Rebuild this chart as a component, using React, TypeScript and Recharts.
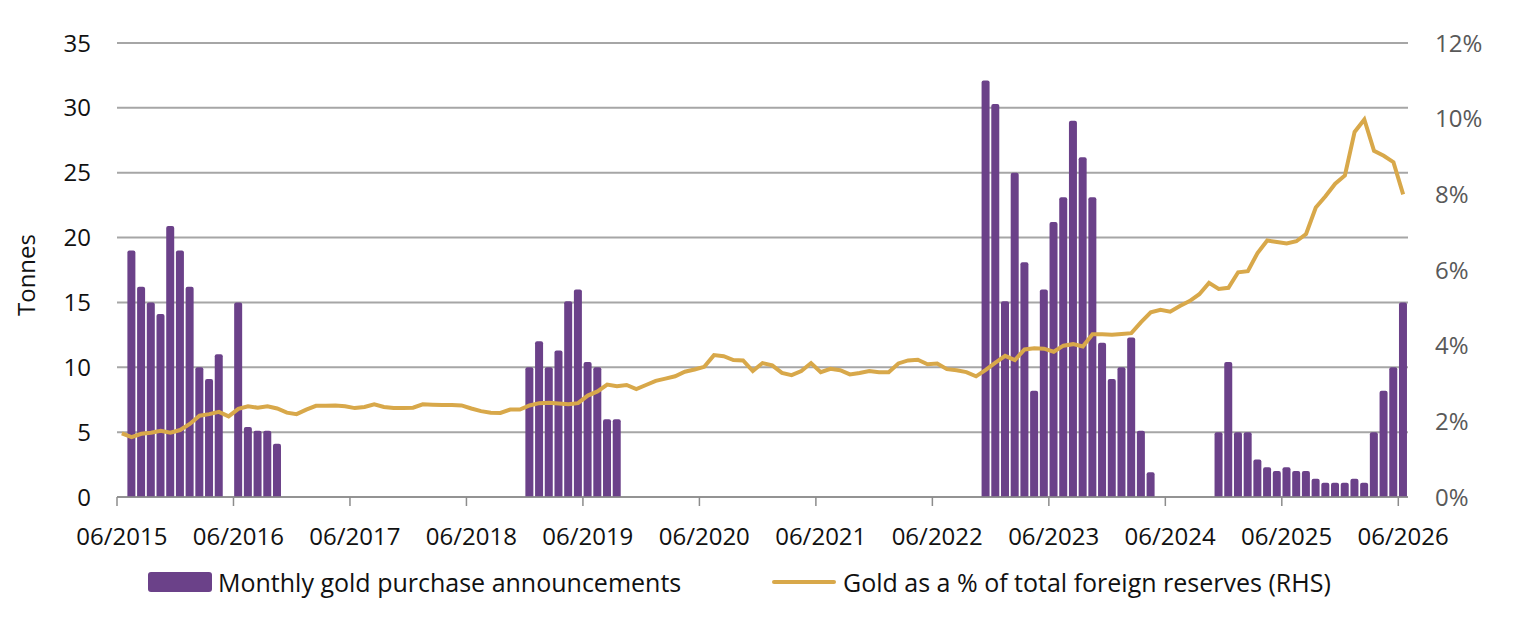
import { ComposedChart, Bar, Line, XAxis, YAxis, CartesianGrid, Legend, Label } from 'recharts';

// monthly categories, 06/2015 .. 06/2026
const FIRST_YEAR = 2015;
const FIRST_MONTH = 6;
const MONTH_COUNT = 133;
const months: string[] = Array.from({ length: MONTH_COUNT }, (_, i) => {
  const k = FIRST_MONTH - 1 + i;
  return `${String((k % 12) + 1).padStart(2, '0')}/${FIRST_YEAR + Math.floor(k / 12)}`;
});

// tonnes announced each month (null = no announcement)
const purchases: (number | null)[] = [
  null, 19, 16.2, 15, 14.1, 20.9, 19, 16.2, 10, 9.1, 11, null,
  15, 5.4, 5.1, 5.1, 4.1, null, null, null, null, null, null, null,
  null, null, null, null, null, null, null, null, null, null, null, null,
  null, null, null, null, null, null, 10, 12, 10, 11.3, 15.1, 16,
  10.4, 10, 6, 6, null, null, null, null, null, null, null, null,
  null, null, null, null, null, null, null, null, null, null, null, null,
  null, null, null, null, null, null, null, null, null, null, null, null,
  null, null, null, null, null, 32.1, 30.3, 15.1, 25, 18.1, 8.2, 16,
  21.2, 23.1, 29, 26.2, 23.1, 11.9, 9.1, 10, 12.3, 5.1, 1.9, null,
  null, null, null, null, null, 5, 10.4, 5, 5, 2.9, 2.3, 2,
  2.3, 2, 2, 1.4, 1.1, 1.1, 1.1, 1.4, 1.1, 5, 8.2, 10,
  15,
];

// gold share of total foreign reserves, %
const reserves: number[] = [
  1.68, 1.58, 1.67, 1.7, 1.75, 1.7, 1.77, 1.93, 2.15, 2.19, 2.25, 2.13,
  2.33, 2.4, 2.36, 2.4, 2.34, 2.23, 2.19, 2.31, 2.41, 2.41, 2.42, 2.4,
  2.35, 2.38, 2.45, 2.38, 2.35, 2.35, 2.36, 2.45, 2.44, 2.43, 2.43, 2.42,
  2.34, 2.27, 2.23, 2.22, 2.31, 2.31, 2.42, 2.48, 2.49, 2.47, 2.45, 2.48,
  2.68, 2.79, 2.97, 2.93, 2.96, 2.85, 2.96, 3.07, 3.13, 3.19, 3.31, 3.37,
  3.44, 3.75, 3.72, 3.62, 3.61, 3.33, 3.54, 3.48, 3.28, 3.22, 3.33, 3.54,
  3.3, 3.39, 3.35, 3.24, 3.28, 3.33, 3.3, 3.3, 3.53, 3.61, 3.63, 3.51,
  3.53, 3.38, 3.35, 3.3, 3.19, 3.36, 3.55, 3.73, 3.62, 3.9, 3.93, 3.92,
  3.84, 4.0, 4.04, 3.98, 4.3, 4.3, 4.29, 4.31, 4.33, 4.62, 4.88, 4.95,
  4.9, 5.05, 5.18, 5.36, 5.66, 5.5, 5.53, 5.94, 5.97, 6.45, 6.78, 6.74,
  6.7, 6.76, 6.95, 7.65, 7.95, 8.28, 8.5, 9.65, 9.98, 9.15, 9.02, 8.85,
  8.0,
];

const tonneTicks = [0, 5, 10, 15, 20, 25, 30, 35];
const percentTicks = [0, 2, 4, 6, 8, 10, 12];

const data = months.map((month, i) => ({
  month,
  purchases: purchases[i],
  reserves: reserves[i],
}));

const PURPLE = '#6b4189';
const GOLD = '#d8a84a';
const FONT = '"Open Sans", "Noto Sans", sans-serif';

const WIDTH = 1500;
const HEIGHT = 602;
const LEFT_AXIS_W = 109;
const RIGHT_AXIS_W = 100;
const PLOT_W = WIDTH - LEFT_AXIS_W - RIGHT_AXIS_W;
const LEGEND_H = 50;

// tick line on the boundary between months, label on the first month
function MonthTick({ x, y, payload }: any) {
  const band = PLOT_W / MONTH_COUNT;
  const bx = x - band / 2;
  return (
    <g>
      <line x1={bx} x2={bx} y1={y} y2={y + 9} stroke="#8c8c8c" strokeWidth={1.5} />
      <text x={x} y={y + 38} textAnchor="middle" dominantBaseline="central" fontSize={24} fill="#111">
        {payload.value}
      </text>
    </g>
  );
}

function TonnesLabel({ viewBox }: any) {
  const cy = viewBox.y + viewBox.height / 2 + 5;
  return (
    <text x={17} y={cy} transform={`rotate(-90, 17, ${cy})`} textAnchor="middle" dominantBaseline="central" fontSize={24} fill="#111">
      Tonnes
    </text>
  );
}

function LegendBox() {
  const item = { position: 'absolute' as const, top: 0, lineHeight: '44px', whiteSpace: 'nowrap' as const };
  return (
    <div style={{ position: 'relative', width: WIDTH, height: LEGEND_H, fontSize: 25, color: '#111', fontFamily: FONT }}>
      <div style={{ position: 'absolute', left: 140, top: 12, width: 64, height: 20, background: PURPLE, borderRadius: 3 }} />
      <span style={{ ...item, left: 210 }}>Monthly gold purchase announcements</span>
      <div style={{ position: 'absolute', left: 764, top: 20, width: 64, height: 4, background: GOLD, borderRadius: 2 }} />
      <span style={{ ...item, left: 835 }}>Gold as a % of total foreign reserves (RHS)</span>
    </div>
  );
}

export default function App() {
  return (
    <div style={{ width: WIDTH, height: HEIGHT, fontFamily: FONT, background: '#fff' }}>
      <ComposedChart width={WIDTH} height={HEIGHT} data={data} margin={{ top: 35, right: 0, bottom: 0, left: 0 }} barCategoryGap="7%">
        <CartesianGrid yAxisId="left" vertical={false} stroke="#a6a6a6" strokeWidth={2} />
        <XAxis
          dataKey="month"
          height={63}
          interval={11}
          tickSize={0}
          tickMargin={0}
          tickLine={false}
          axisLine={{ stroke: '#8c8c8c', strokeWidth: 1.5 }}
          tick={<MonthTick />}
        />
        <YAxis
          yAxisId="left"
          width={LEFT_AXIS_W}
          domain={[0, 35]}
          ticks={tonneTicks}
          axisLine={false}
          tickLine={false}
          tickMargin={20}
          tick={{ fontSize: 24, fill: '#111' }}
        >
          <Label content={<TonnesLabel />} />
        </YAxis>
        <YAxis
          yAxisId="right"
          orientation="right"
          width={RIGHT_AXIS_W}
          domain={[0, 12]}
          ticks={percentTicks}
          tickFormatter={(v) => `${v}%`}
          axisLine={false}
          tickLine={false}
          tickMargin={21}
          tick={{ fontSize: 24, fill: '#595959' }}
        />
        <Bar yAxisId="left" dataKey="purchases" fill={PURPLE} radius={[2, 2, 0, 0]} isAnimationActive={false} />
        <Line
          yAxisId="right"
          dataKey="reserves"
          type="linear"
          stroke={GOLD}
          strokeWidth={4}
          dot={false}
          activeDot={false}
          isAnimationActive={false}
        />
        <Legend
          verticalAlign="bottom"
          wrapperStyle={{ left: 0, bottom: 0, width: WIDTH }}
          content={<LegendBox />}
        />
      </ComposedChart>
    </div>
  );
}
